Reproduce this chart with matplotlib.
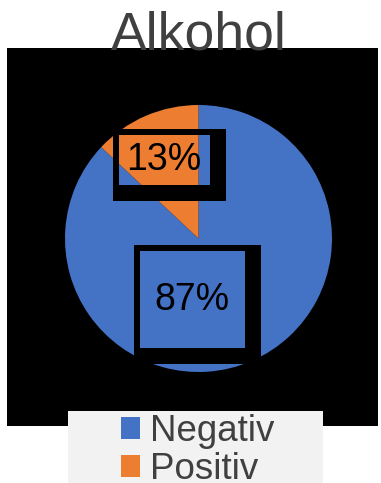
"""Kreisdiagramm Alkohol (Negativ / Positiv)"""
import matplotlib
matplotlib.use("Agg")
from matplotlib import pyplot as plt
from matplotlib.patches import Rectangle, Patch

plt.rcParams['font.family'] = ['Liberation Sans', 'DejaVu Sans']

title = "Alkohol"
categories = ["Negativ", "Positiv"]
values = [87, 13]
colors = ["#4472C4", "#ED7D31"]

W, H = 381, 483
fig = plt.figure(figsize=(W / 100, H / 100), dpi=100)

# schwarzer Plotbereich und grauer Legendenkasten (Pixelangaben)
fig.patches.append(Rectangle((7 / W, 1 - 426 / H), 371 / W, 378 / H,
                             transform=fig.transFigure, facecolor="black",
                             edgecolor="none", zorder=-2))
fig.patches.append(Rectangle((68 / W, 0), 255 / W, 72 / H,
                             transform=fig.transFigure, facecolor="#F2F2F2",
                             edgecolor="none", zorder=-1))

# Kreis: Mittelpunkt (198.5, 238.5) px, Radius 133.5 px
r = 133.5
ax = fig.add_axes([(198.5 - r) / W, 1 - (238.5 + r) / H, 2 * r / W, 2 * r / H])
ax.pie(values, colors=colors, startangle=90, counterclock=False, radius=1,
       wedgeprops=dict(linewidth=0))
ax.set_xlim(-1, 1)
ax.set_ylim(-1, 1)
ax.set_aspect("equal")
ax.axis("off")

# Datenbeschriftungen mit Rahmen (innerer Kasten in Datenkoordinaten)
label_pos = [(-0.052, -0.461), (-0.258, 0.588)]
label_box = [(-0.438, -0.820, 0.348, -0.094), (-0.596, 0.401, 0.086, 0.775)]
t = 6 / r      # Rahmenbreite
s = 10 / r     # Schatten rechts/unten


def frame(x0, y0, x1, y1):
    parts = [
        (x0 - t, y1, x1 - x0 + 2 * t + s, t),           # oben
        (x0 - t, y0 - t - s, x1 - x0 + 2 * t + s, t + s),  # unten
        (x0 - t, y0 - t - s, t, y1 - y0 + 2 * t + s),     # links
        (x1, y0 - t - s, t + s, y1 - y0 + 2 * t + s),     # rechts
    ]
    for (x, y, w, h) in parts:
        ax.add_patch(Rectangle((x, y), w, h, facecolor="black",
                               edgecolor="none", zorder=5, clip_on=False))


for v, (lx, ly), box in zip(values, label_pos, label_box):
    frame(*box)
    ax.text(lx, ly, f"{v}%", ha="center", va="center", fontsize=27,
            color="black", zorder=6)

fig.text(199 / W, 1 - 50 / H, title, ha="center", va="baseline",
         fontsize=38.5, color="#404040")

handles = [Patch(facecolor=c, edgecolor="none") for c in colors]
fig.legend(handles, categories, loc="upper left",
           bbox_to_anchor=(121 / W, 1 - 414 / H), frameon=False,
           fontsize=26.5, labelcolor="#404040", handlelength=0.52,
           handleheight=0.52, handletextpad=0.28, labelspacing=0.08,
           borderpad=0, borderaxespad=0)

fig.savefig("out.png", dpi=100)
